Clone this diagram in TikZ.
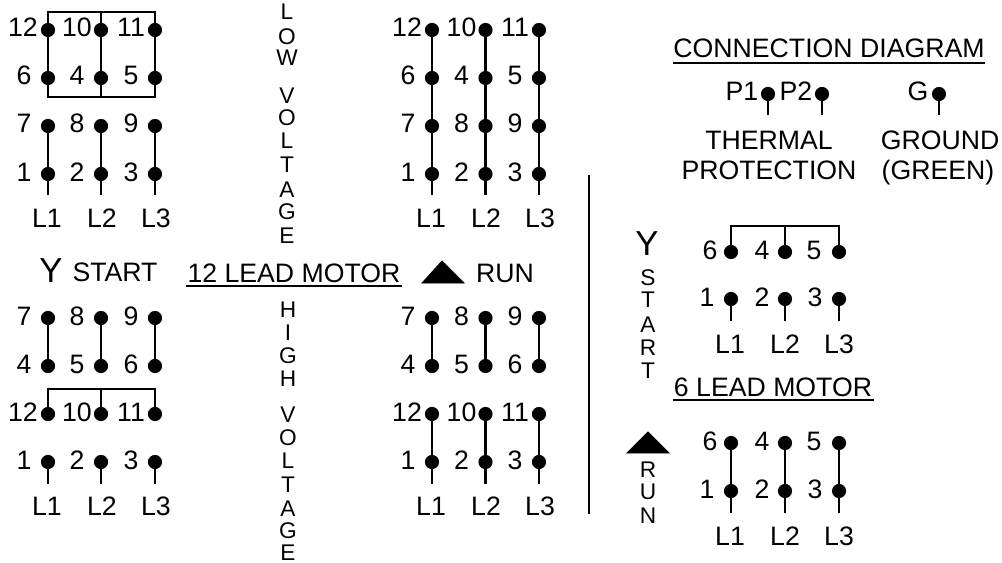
\documentclass[tikz,border=0pt]{standalone}
\usepackage{fontspec}
\setmainfont{Liberation Sans}
\newcommand{\term}[5][-24]{%
  \node[dot] (#2) at (#3,#4) {};
  \node[lab] (#2-l) at (#3+#1,#4+7) {#5};
}
\tikzset{
  dot/.style={circle,fill=black,draw=none,minimum size=10.6pt,inner sep=0pt},
  lab/.style={anchor=base,inner sep=0pt,outer sep=0pt,font=\fontsize{20}{20}\selectfont},
  vert/.style={anchor=base,inner sep=0pt,outer sep=0pt,font=\fontsize{17}{17}\selectfont},
  big/.style={anchor=base,inner sep=0pt,outer sep=0pt,font=\fontsize{26}{26}\selectfont},
  wire/.style={line width=2pt,black},
  bar/.style={line width=1.8pt,black,line cap=rect},
  tri/.style={fill=black,draw=black,line width=0.6pt,line join=miter}
}
\begin{document}
\begin{tikzpicture}[x=0.75pt,y=-0.75pt]
\useasboundingbox (0,0) rectangle (1002,563);

% ---- Block A: 12 lead, low voltage, Y start
\term[-25]{a12}{48}{30}{12}\term{a10}{101}{30}{10}\term{a11}{155}{30}{11}
\term{a6}{48}{78}{6}\term{a4}{101}{78}{4}\term{a5}{155}{78}{5}
\term{a7}{48}{126}{7}\term{a8}{101}{126}{8}\term{a9}{155}{126}{9}
\term{a1}{48}{174}{1}\term{a2}{101}{174}{2}\term{a3}{155}{174}{3}
\foreach \c/\x in {1/47,2/102,3/156}{
  \node[lab] (aL\c) at (\x,227) {L\c};
  \coordinate (aE\c) at (a\c |- 0,195);
  \draw[wire] (a\c) -- (aE\c);
}
\foreach \p/\q in {12/6,10/4,11/5,7/1,8/2,9/3}{\draw[wire] (a\p) -- (a\q);}
\coordinate (aT1) at (48,12);\coordinate (aT2) at (101,12);\coordinate (aT3) at (155,12);
\coordinate (aB1) at (48,97);\coordinate (aB2) at (101,97);\coordinate (aB3) at (155,97);
\draw[wire] (a12) -- (aT1);\draw[wire] (a10) -- (aT2);\draw[wire] (a11) -- (aT3);
\draw[wire] (a6) -- (aB1);\draw[wire] (a4) -- (aB2);\draw[wire] (a5) -- (aB3);
\draw[bar] (aT1) -- (aT3);\draw[bar] (aB1) -- (aB3);

% ---- Block B: 12 lead, low voltage, run
\term[-25]{b12}{432}{30}{12}\term{b10}{485.5}{30}{10}\term{b11}{539}{30}{11}
\term{b6}{432}{78}{6}\term{b4}{485.5}{78}{4}\term{b5}{539}{78}{5}
\term{b7}{432}{126}{7}\term{b8}{485.5}{126}{8}\term{b9}{539}{126}{9}
\term{b1}{432}{174}{1}\term{b2}{485.5}{174}{2}\term{b3}{539}{174}{3}
\foreach \c/\x in {1/431,2/486,3/540}{
  \node[lab] (bL\c) at (\x,227) {L\c};
  \coordinate (bE\c) at (b\c |- 0,195);
  \draw[wire] (b\c) -- (bE\c);
}
\foreach \p/\q in {12/6,6/7,7/1,10/4,4/8,8/2,11/5,5/9,9/3}{\draw[wire] (b\p) -- (b\q);}

% ---- Block C: 12 lead, high voltage, Y start
\term{c7}{48}{318}{7}\term{c8}{101}{318}{8}\term{c9}{155}{318}{9}
\term{c4}{48}{366}{4}\term{c5}{101}{366}{5}\term{c6}{155}{366}{6}
\term[-25]{c12}{48}{414}{12}\term{c10}{101}{414}{10}\term{c11}{155}{414}{11}
\term{c1}{48}{462}{1}\term{c2}{101}{462}{2}\term{c3}{155}{462}{3}
\foreach \c/\x in {1/47,2/102,3/156}{
  \node[lab] (cL\c) at (\x,515) {L\c};
  \coordinate (cE\c) at (c\c |- 0,484);
  \draw[wire] (c\c) -- (cE\c);
}
\foreach \p/\q in {7/4,8/5,9/6}{\draw[wire] (c\p) -- (c\q);}
\coordinate (cT1) at (48,389);\coordinate (cT2) at (101,389);\coordinate (cT3) at (155,389);
\draw[wire] (c12) -- (cT1);\draw[wire] (c10) -- (cT2);\draw[wire] (c11) -- (cT3);
\draw[bar] (cT1) -- (cT3);

% ---- Block D: 12 lead, high voltage, run
\term{d7}{432}{318}{7}\term{d8}{485.5}{318}{8}\term{d9}{539}{318}{9}
\term{d4}{432}{366}{4}\term{d5}{485.5}{366}{5}\term{d6}{539}{366}{6}
\term[-25]{d12}{432}{414}{12}\term{d10}{485.5}{414}{10}\term{d11}{539}{414}{11}
\term{d1}{432}{462}{1}\term{d2}{485.5}{462}{2}\term{d3}{539}{462}{3}
\foreach \c/\x in {1/431,2/486,3/540}{
  \node[lab] (dL\c) at (\x,515) {L\c};
  \coordinate (dE\c) at (d\c |- 0,484);
  \draw[wire] (d\c) -- (dE\c);
}
\foreach \p/\q in {7/4,8/5,9/6,12/1,10/2,11/3}{\draw[wire] (d\p) -- (d\q);}

% ---- Block E: 6 lead, Y start
\term[-21]{e6}{731}{252}{6}\term[-23]{e4}{785}{252}{4}\term[-25]{e5}{839}{252}{5}
\term[-24]{e1}{731}{299}{1}\term[-23]{e2}{785}{299}{2}\term[-24]{e3}{839}{299}{3}
\foreach \c/\x in {1/730,2/785,3/839}{
  \node[lab] (eL\c) at (\x,353) {L\c};
  \coordinate (eE\c) at (e\c |- 0,321);
  \draw[wire] (e\c) -- (eE\c);
}
\coordinate (eT1) at (731,226);\coordinate (eT2) at (785,226);\coordinate (eT3) at (839,226);
\draw[wire] (e6) -- (eT1);\draw[wire] (e4) -- (eT2);\draw[wire] (e5) -- (eT3);
\draw[bar] (eT1) -- (eT3);

% ---- Block F: 6 lead, run
\term[-21]{f6}{731}{443}{6}\term[-23]{f4}{785}{443}{4}\term[-25]{f5}{839}{443}{5}
\term[-24]{f1}{731}{491}{1}\term[-23]{f2}{785}{491}{2}\term[-24]{f3}{839}{491}{3}
\foreach \c/\x in {1/730,2/785,3/839}{
  \node[lab] (fL\c) at (\x,545) {L\c};
  \coordinate (fE\c) at (f\c |- 0,513);
  \draw[wire] (f\c) -- (fE\c);
}
\foreach \p/\q in {6/1,4/2,5/3}{\draw[wire] (f\p) -- (f\q);}

% ---- Thermal protection and ground
\term[-26]{p1}{768}{94}{P1}\term[-26]{p2}{822}{94}{P2}\term[-21]{g}{939}{94}{G}
\foreach \n in {p1,p2,g}{
  \coordinate (\n E) at (\n |- 0,115);
  \draw[wire] (\n) -- (\n E);
}
\node[lab] (thermal) at (769,150) {THERMAL};
\node[lab] (protection) at (769,180) {PROTECTION};
\node[lab] (ground) at (940,150) {GROUND};
\node[lab] (green) at (938,180) {(GREEN)};

% ---- Titles with underlines
\node[lab] (conn) at (829,58) {CONNECTION DIAGRAM};
\coordinate (connA) at (673,63);\coordinate (connB) at (985,63);
\draw[bar,line cap=butt] (connA) -- (connB);
\node[lab] (six) at (773,396.5) {6 LEAD MOTOR};
\coordinate (sixA) at (673,400);\coordinate (sixB) at (874,400);
\draw[bar,line cap=butt] (sixA) -- (sixB);
\node[lab] (twelve) at (294,282) {12 LEAD MOTOR};
\coordinate (twA) at (186,286);\coordinate (twB) at (402,286);
\draw[bar,line cap=butt] (twA) -- (twB);

% ---- Y start / delta run markers
\node[big] (y1) at (51,282) {Y};
\node[lab] (start1) at (115,281) {START};
\node[big] (y2) at (647,255) {Y};
\node[lab] (run1) at (505,282) {RUN};
\coordinate (t1) at (442,261);\coordinate (t2) at (464,283);\coordinate (t3) at (422,283);
\fill[tri] (t1) -- (t2) -- (t3) -- cycle;
\coordinate (t4) at (648,432);\coordinate (t5) at (669,453);\coordinate (t6) at (627,453);
\fill[tri] (t4) -- (t5) -- (t6) -- cycle;

% ---- Vertical texts
\foreach \t/\yy [count=\i] in {L/20,O/45,W/66,V/104,O/126,L/148,T/172,A/197,G/219,E/243}
  {\node[vert] (low\i) at (287,\yy) {\t};}
\foreach \t/\yy [count=\i] in {H/317,I/340,G/363,H/386,V/422,O/445,L/468,T/492,A/516,G/538,E/560.5}
  {\node[vert] (high\i) at (288,\yy) {\t};}
\foreach \t/\yy [count=\i] in {S/285,T/307,A/332,R/355,T/378}
  {\node[vert] (st\i) at (648,\yy) {\t};}
\foreach \t/\yy [count=\i] in {R/477,U/499,N/523}
  {\node[vert] (rn\i) at (648,\yy) {\t};}

% ---- Divider
\coordinate (divA) at (589,175);\coordinate (divB) at (589,514);
\draw[line width=1.9pt] (divA) -- (divB);
\end{tikzpicture}
\end{document}
